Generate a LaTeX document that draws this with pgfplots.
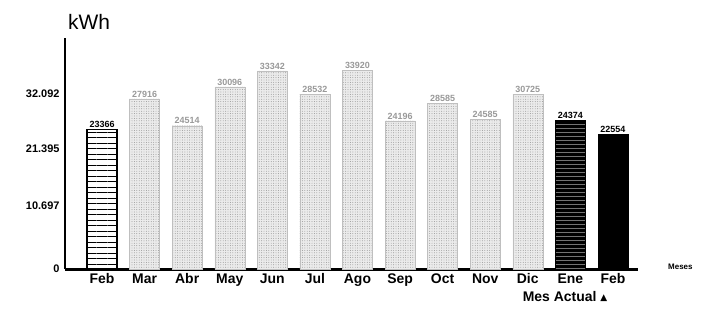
\documentclass[border=0pt]{standalone}
\usepackage{pgfplots}
\pgfplotsset{compat=1.18}
\usepackage{fontspec}
\setmainfont{Liberation Sans}
\newfontfamily\dejavu{DejaVu Sans}
\usetikzlibrary{patterns.meta}
\begin{document}
\begin{tikzpicture}[x=1bp,y=1bp]
\useasboundingbox (0,0) rectangle (711,308);
\begin{axis}[
  at={(65bp,39bp)}, anchor=south west,
  scale only axis, width=573bp, height=231bp,
  xmin=-0.87, xmax=12.59, ymin=0, ymax=38700,
  scaled y ticks=false, scaled x ticks=false,
  axis x line=bottom, axis y line=left,
  x axis line style={-, line width=3bp},
  y axis line style={-, line width=1.5bp},
  major tick length=0pt,
  xtick={0,...,12},
  xticklabels={Feb,Mar,Abr,May,Jun,Jul,Ago,Sep,Oct,Nov,Dic,Ene,Feb},
  xticklabel style={font=\bfseries\fontsize{14}{14}\selectfont, inner sep=1.5bp, text height=10bp, text depth=3bp, yshift=-3bp},
  ytick={0,10550,20100,29300},
  yticklabels={0,10.697,21.395,32.092},
  yticklabel style={font=\bfseries\fontsize{11}{11}\selectfont, xshift=-2bp},
  ybar, bar width=30bp,
  nodes near coords, point meta=explicit symbolic,
  nodes near coords style={font=\bfseries\fontsize{9}{9}\selectfont, inner sep=1.5bp},
  clip=false,
]
\addplot[bar shift=0pt, fill=white, draw=black, line width=1.2bp,
  postaction={pattern={Lines[angle=0,distance=5.5bp,line width=1bp]}, pattern color=black},
  nodes near coords style={text=black}]
  coordinates {(0,23366)[23366]};
\addplot[bar shift=0pt, fill=black!8, draw=black!25, line width=0.4bp,
  postaction={pattern={Dots[distance=2.4bp,radius=0.45bp]}, pattern color=black!45},
  nodes near coords style={text=black!40}]
  coordinates {
  (1,28500)[27916]
  (2,24000)[24514]
  (3,30500)[30096]
  (4,33200)[33342]
  (5,29300)[28532]
  (6,33300)[33920]
  (7,24800)[24196]
  (8,27800)[28585]
  (9,25100)[24585]
  (10,29300)[30725]
  };
\addplot[bar shift=0pt, fill=black, draw=black,
  postaction={pattern={Lines[angle=0,distance=4bp,line width=0.8bp]}, pattern color=black!55},
  nodes near coords style={text=black}]
  coordinates {(11,24900)[24374]};
\addplot[bar shift=0pt, fill=black, draw=black,
  nodes near coords style={text=black}]
  coordinates {(12,22554)[22554]};
\end{axis}
\node[anchor=base west, inner sep=0pt, font=\fontsize{21}{21}\selectfont] at (68,279) {kWh};
\node[anchor=west, inner sep=0pt, font=\bfseries\fontsize{8}{8}\selectfont] at (668,41) {Meses};
\node[anchor=center, inner sep=0pt, font=\bfseries\fontsize{14}{14}\selectfont] at (565,11) {Mes Actual {\dejavu\fontsize{9}{9}\selectfont\raisebox{1.5bp}{▲}}};
\end{tikzpicture}
\end{document}
